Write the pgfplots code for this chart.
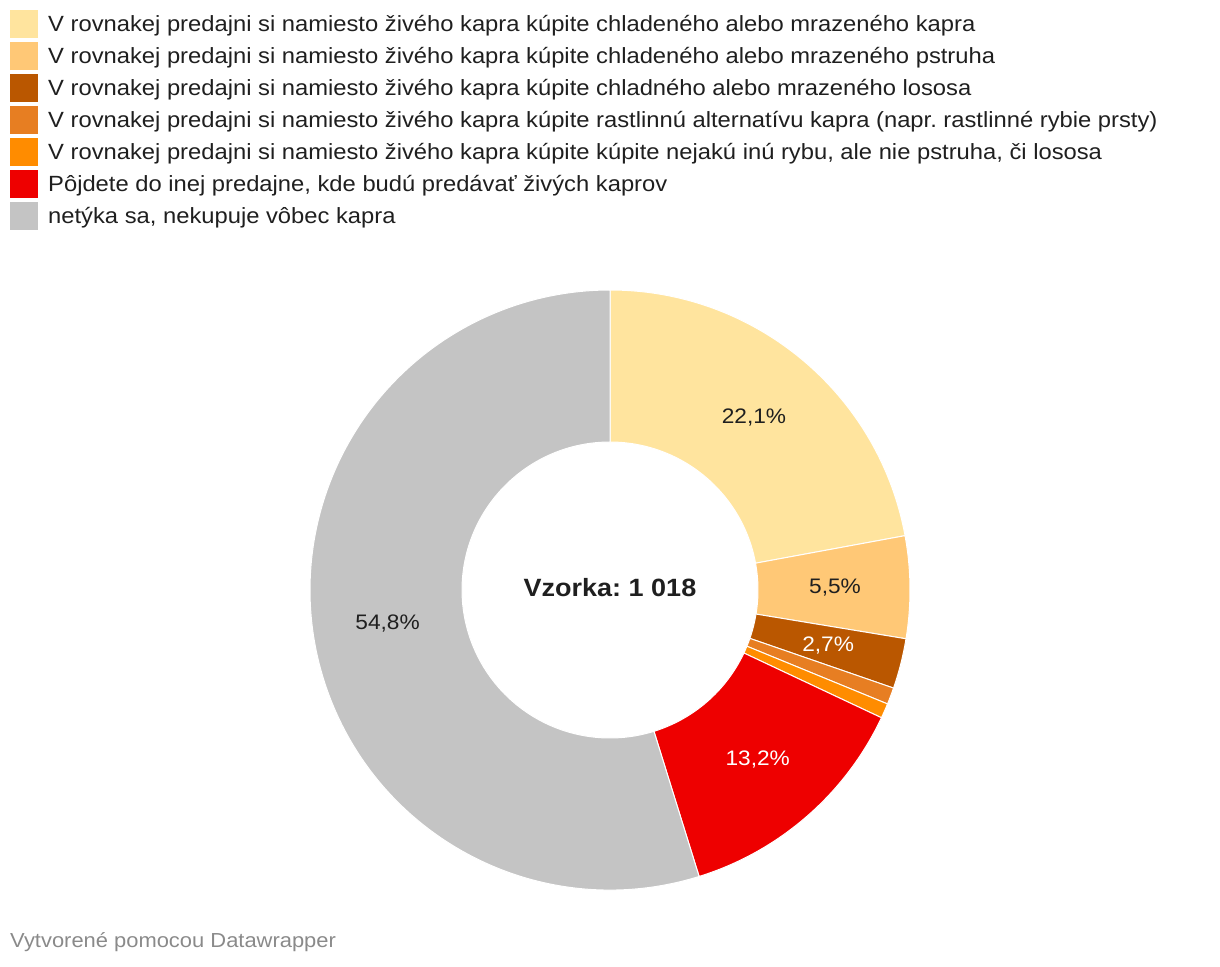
\documentclass[border=0pt]{standalone}
\usepackage{fontspec}
\setmainfont{Liberation Sans}[FakeStretch=1.08]
\usepackage{pgfplots}
\usepackage{pgfplotstable}
\pgfplotsset{compat=1.18}
\frenchspacing
\definecolor{c1}{HTML}{FFE49E}
\definecolor{c2}{HTML}{FFC876}
\definecolor{c3}{HTML}{BA5700}
\definecolor{c4}{HTML}{E77E22}
\definecolor{c5}{HTML}{FF8C00}
\definecolor{c6}{HTML}{EE0000}
\definecolor{c7}{HTML}{C4C4C4}
\definecolor{txt}{HTML}{1F1F1F}
\definecolor{foot}{HTML}{8A8A8A}
\pgfplotstableread{
value col show lc
22.1 c1 1 txt
5.5 c2 1 txt
2.7 c3 1 white
0.9 c4 0 white
0.8 c5 0 white
13.2 c6 1 white
54.8 c7 1 txt
}\data
\pgfkeys{/pgf/number format/.cd, use comma, fixed, fixed zerofill, precision=1, assume math mode=true}
\begin{document}
\frenchspacing
\begin{tikzpicture}
\begin{axis}[
  scale only axis, width=1220pt, height=966pt,
  xmin=0, xmax=1220, ymin=0, ymax=966, y dir=reverse,
  hide axis, clip=false,
  legend image code/.code={\fill[#1, draw=none] (0pt,-14pt) rectangle (28pt,14pt);},
  legend cell align=left,
  legend style={at={(axis cs:10,10)}, anchor=north west, draw=none, fill=none,
    inner sep=0pt, row sep=4pt, column sep=10pt,
    font=\frenchspacing\fontsize{22}{26}\selectfont, text=txt, nodes={inner sep=0pt}},
]
\path (axis cs:0,0) rectangle (axis cs:1220,966);
\addlegendimage{fill=c1}\addlegendentry{V rovnakej predajni si namiesto živého kapra kúpite chladeného alebo mrazeného kapra}
\addlegendimage{fill=c2}\addlegendentry{V rovnakej predajni si namiesto živého kapra kúpite chladeného alebo mrazeného pstruha}
\addlegendimage{fill=c3}\addlegendentry{V rovnakej predajni si namiesto živého kapra kúpite chladného alebo mrazeného lososa}
\addlegendimage{fill=c4}\addlegendentry{V rovnakej predajni si namiesto živého kapra kúpite rastlinnú alternatívu kapra (napr. rastlinné rybie prsty)}
\addlegendimage{fill=c5}\addlegendentry{V rovnakej predajni si namiesto živého kapra kúpite kúpite nejakú inú rybu, ale nie pstruha, či lososa}
\addlegendimage{fill=c6}\addlegendentry{Pôjdete do inej predajne, kde budú predávať živých kaprov}
\addlegendimage{fill=c7}\addlegendentry{netýka sa, nekupuje vôbec kapra}
\def\cum{0}
\pgfplotsforeachungrouped \i in {0,...,6}{%
  \pgfplotstablegetelem{\i}{value}\of\data \let\v\pgfplotsretval
  \pgfplotstablegetelem{\i}{col}\of\data \let\c\pgfplotsretval
  \pgfplotstablegetelem{\i}{show}\of\data \let\s\pgfplotsretval
  \pgfplotstablegetelem{\i}{lc}\of\data \let\lc\pgfplotsretval
  \pgfmathsetmacro\a{90-3.6*\cum}
  \pgfmathsetmacro\b{90-3.6*(\cum+\v)}
  \pgfmathsetmacro\bb{\b+180}
  \pgfmathsetmacro\m{(\a+\b)/2}
  \pgfmathsetmacro\cum{\cum+\v}
  \edef\cmd{\noexpand\fill[\c, draw=white, line width=1pt] (axis cs:610,590) ++(\a:300pt) arc[start angle=\a, end angle=\b, radius=300pt] -- ++(\bb:152pt) arc[start angle=\b, end angle=\a, radius=148pt] -- cycle;}
  \cmd
  \ifnum\s=1
    \edef\cmd{\noexpand\path (axis cs:610,590) ++(\m:225pt) node[text=\lc, font=\noexpand\fontsize{21}{24}\noexpand\selectfont] {\noexpand\pgfmathprintnumber{\v}\noexpand\%};}
    \cmd
  \fi
}
\node[font=\frenchspacing\bfseries\fontsize{25}{30}\selectfont, text=txt] at (axis cs:610,588) {Vzorka: 1 018};
\node[anchor=west, inner sep=0pt, text=foot, font=\fontsize{20.3}{24}\selectfont] at (axis cs:10,942) {Vytvorené pomocou Datawrapper};
\end{axis}
\end{tikzpicture}
\end{document}
